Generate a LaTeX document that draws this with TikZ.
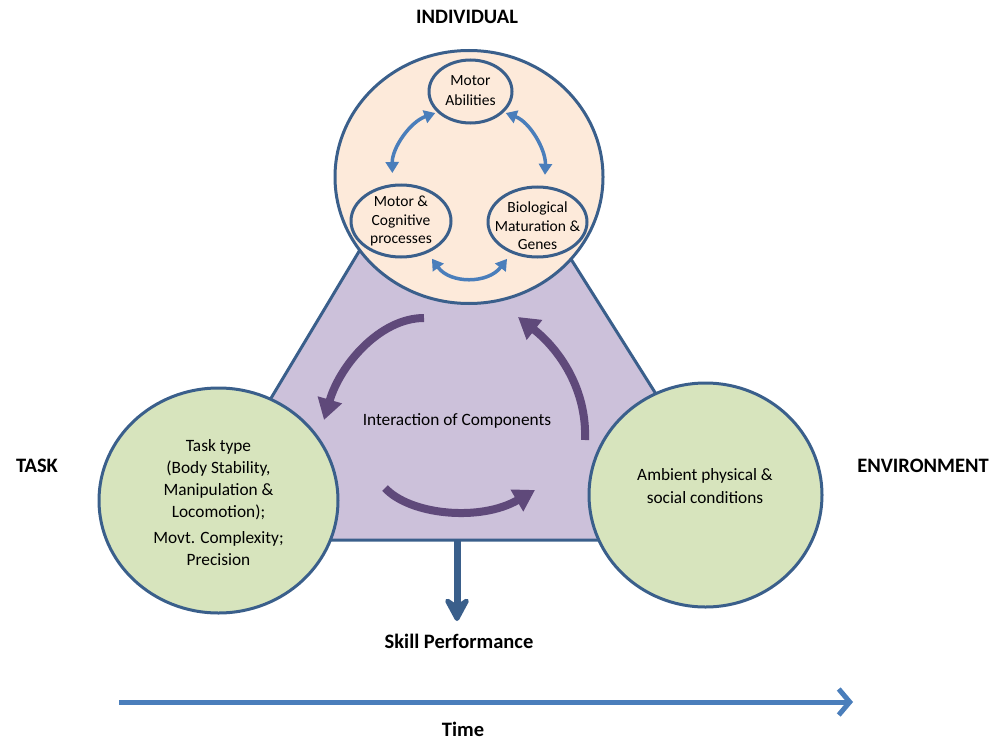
\documentclass[tikz,border=0pt]{standalone}
\usepackage{fontspec}
\setmainfont{Carlito}
\usetikzlibrary{shapes.geometric,arrows.meta}
\definecolor{edgeblue}{HTML}{3A5F8B}
\definecolor{peach}{HTML}{FDEADA}
\definecolor{lav}{HTML}{CCC1DA}
\definecolor{sage}{HTML}{D7E4BD}
\definecolor{plum}{HTML}{5F497A}
\definecolor{skyblue}{HTML}{4A7EBB}
\begin{document}
\begin{tikzpicture}[x=1pt,y=-1pt,
  blob/.style={ellipse, draw=edgeblue, line width=3pt, inner sep=0pt},
  lbl/.style={font=\fontsize{20.5}{24}\selectfont\bfseries},
  body/.style={font=\fontsize{17.3}{22}\selectfont, align=center},
  small/.style={font=\fontsize{15.5}{18.5}\selectfont, align=center},
  cyc/.style={draw=plum, line width=8pt, -{Triangle[length=21pt,width=24pt]}},
  swap/.style={draw=skyblue, line width=3.5pt, {Triangle[length=11pt,width=13pt]}-{Triangle[length=11pt,width=13pt]}}
]
\useasboundingbox (0,0) rectangle (1003,741);

% triangle of interaction
\draw[draw=edgeblue, fill=lav, line width=3pt] (460,83) -- (186,540) -- (748,540) -- cycle;
\coordinate (tribase) at (457,540);

% main circles
\node[blob, fill=peach, minimum width=268pt, minimum height=253pt] (indiv) at (469,177) {};
\node[blob, fill=sage, minimum width=239pt, minimum height=225pt] (task) at (218.5,500.5) {};
\node[blob, fill=sage, minimum width=233pt, minimum height=224pt] (env) at (705.5,495) {};

% inner ellipses
\node[blob, minimum width=83pt, minimum height=63pt] (ma) at (470.5,91.5) {};
\node[blob, minimum width=100pt, minimum height=72pt] (mc) at (401,221) {};
\node[blob, minimum width=99pt, minimum height=70pt] (bm) at (537.5,222) {};
\node[small] (matext) at (470.5,90.5) {Motor\\[2pt]Abilities};
\node[small] (mctext) at (401,221) {Motor \&\\Cognitive\\processes};
\node[small] (bmtext) at (537.5,226) {Biological\\Maturation \&\\Genes};

% blue double arrows
\draw[swap, shorten <=2pt, shorten >=11pt] (ma.212) .. controls (410,122) and (392,148) .. (mc.103);
\draw[swap, shorten <=2pt, shorten >=11pt] (ma.328) .. controls (530,122) and (546,150) .. (bm.79);
\draw[swap, shorten <=7pt, shorten >=7pt] (mc.310) .. controls (450,284) and (488,284) .. (bm.230);

% texts in big circles
\node[body] (tasktext) at (218.5,503) {Task type\\(Body Stability,\\Manipulation \&\\Locomotion);\\[4pt]Movt. Complexity;\\Precision};
\node[body] (envtext) at (705,486) {Ambient physical \&\\[1pt]social conditions};
\node[body] (inter) at (457,421) {Interaction of Components};

% purple cycle arrows
\coordinate (a1s) at (424,318); \coordinate (a1e) at (324,420);
\coordinate (a2s) at (585,440); \coordinate (a2e) at (518,317);
\coordinate (a3s) at (385,488); \coordinate (a3e) at (535,490);
\draw[cyc] (a1s) .. controls (380,318) and (340,365) .. (a1e);
\draw[cyc] (a2s) .. controls (587,390) and (560,350) .. (a2e);
\draw[cyc] (a3s) .. controls (410,515) and (480,522) .. (a3e);

% labels
\node[lbl] (indivlbl) at (467,17) {INDIVIDUAL};
\node[lbl] (tasklbl) at (37,466) {TASK};
\node[lbl] (envlbl) at (923,466) {ENVIRONMENT};
\node[lbl] (skill) at (459,641) {Skill Performance};
\node[lbl] (time) at (463,729) {Time};

% skill performance arrow
\coordinate (skilltip) at (457,621);
\draw[draw=edgeblue, line width=7pt, -{Stealth[length=30pt,width=32pt,inset=11pt,round]}] (tribase) -- (skilltip);

% time arrow
\coordinate (tstart) at (119,702);
\coordinate (tend) at (853,702);
\draw[draw=skyblue, line width=5pt, -{Straight Barb[length=11pt,width=26pt]}] (tstart) -- (tend);
\end{tikzpicture}
\end{document}
